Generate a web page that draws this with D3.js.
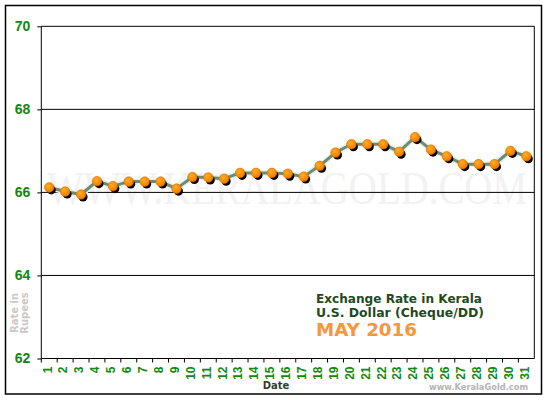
<!DOCTYPE html>
<html>
<head>
<meta charset="utf-8">
<script src="https://cdn.jsdelivr.net/npm/d3@7.9.0/dist/d3.min.js"></script>
<style>
  body { margin: 0; background: #fff; }
  svg { display: block; }
</style>
</head>
<body>
<svg id="chart" width="550" height="400"></svg>
<script>
// ================================
// Data
// ================================
const days = d3.range(1, 32).map(String);
const rates = [
  66.12, 66.02, 65.95, 66.27, 66.15, 66.26, 66.26, 66.26, 66.09, 66.37,
  66.36, 66.33, 66.47, 66.47, 66.47, 66.45, 66.38, 66.64, 66.96, 67.16,
  67.16, 67.16, 66.98, 67.33, 67.03, 66.87, 66.68, 66.68, 66.68, 67.0,
  66.87
];
const yTicks = [62, 64, 66, 68, 70];
const titleLines = ["Exchange Rate in Kerala", "U.S. Dollar (Cheque/DD)"];
const monthLabel = "MAY 2016";

const svg = d3.select("#chart");
const margin = { left: 41.3, top: 26.3, right: 534.3, bottom: 358.5 };

const x = d3.scaleBand().domain(days).range([margin.left, margin.right]);
const y = d3.scaleLinear().domain([62, 70]).range([margin.bottom, margin.top]);

// outer frame
svg.append("rect")
  .attr("x", 5.5).attr("y", 5.5)
  .attr("width", 536).attr("height", 388.5)
  .attr("fill", "#fff").attr("stroke", "#000").attr("stroke-width", 1.5);

// big watermark
svg.append("text")
  .attr("x", 47).attr("y", 204)
  .attr("textLength", 480).attr("lengthAdjust", "spacingAndGlyphs")
  .attr("font-family", "Liberation Serif, serif")
  .attr("font-size", 46)
  .attr("fill", "#f2f2f2")
  .text("WWW.KERALAGOLD.COM");

// ================================
// Axes and grid
// ================================
const yAxis = d3.axisLeft(y).tickValues(yTicks)
  .tickSize(4)
  .tickPadding(7);
svg.append("g")
  .attr("transform", `translate(${margin.left},0)`)
  .call(yAxis)
  .call(g => g.select(".domain").remove())
  .call(g => g.selectAll("line").attr("stroke", "#000"))
  .call(g => g.selectAll("text")
    .attr("fill", "#118811")
    .attr("font-family", "Liberation Sans, Arial, sans-serif")
    .attr("font-weight", "bold")
    .attr("font-size", 14));

svg.append("g")
  .selectAll("line")
  .data(yTicks)
  .join("line")
  .attr("x1", margin.left).attr("x2", margin.right)
  .attr("y1", d => y(d)).attr("y2", d => y(d))
  .attr("stroke", "#000").attr("stroke-width", 1);

svg.append("line")
  .attr("x1", margin.left).attr("x2", margin.left)
  .attr("y1", margin.top).attr("y2", margin.bottom)
  .attr("stroke", "#000");
svg.append("line")
  .attr("x1", margin.right).attr("x2", margin.right)
  .attr("y1", margin.top).attr("y2", margin.bottom)
  .attr("stroke", "#000");

// x ticks at band edges
svg.append("g")
  .selectAll("line")
  .data(days)
  .join("line")
  .attr("x1", d => x(d)).attr("x2", d => x(d))
  .attr("y1", margin.bottom).attr("y2", margin.bottom + 4)
  .attr("stroke", "#000");

// x tick labels, rotated
svg.append("g")
  .selectAll("text")
  .data(days)
  .join("text")
  .attr("transform", d => `translate(${x(d) + x.bandwidth() / 2 - 2},${margin.bottom + 8}) rotate(-90)`)
  .attr("text-anchor", "end")
  .attr("dy", "0.36em")
  .attr("fill", "#118811")
  .attr("font-family", "Liberation Sans, Arial, sans-serif")
  .attr("font-weight", "bold")
  .attr("font-size", 12)
  .text(d => d);

svg.append("text")
  .attr("x", 276).attr("y", 389)
  .attr("text-anchor", "middle")
  .attr("fill", "#2f3f2f")
  .attr("font-family", "DejaVu Sans, sans-serif")
  .attr("font-weight", "bold")
  .attr("font-size", 10)
  .text("Date");

// y axis caption
const cap = svg.append("text")
  .attr("transform", "translate(18,313) rotate(-90)")
  .attr("text-anchor", "middle")
  .attr("fill", "#c8c8c8")
  .attr("font-family", "DejaVu Sans, sans-serif")
  .attr("font-weight", "bold")
  .attr("font-size", 10);
cap.append("tspan").attr("x", 0).attr("y", 0).text("Rate in");
cap.append("tspan").attr("x", 0).attr("y", 10).text("Rupees");

// ================================
// Line and markers
// ================================
const pts = days.map((d, i) => [x(d) + x.bandwidth() / 2, y(rates[i])]);
const line = d3.line();

svg.append("path")
  .attr("d", line(pts))
  .attr("fill", "none")
  .attr("stroke", "#dff4f4")
  .attr("stroke-width", 6)
  .attr("stroke-linejoin", "round");
svg.append("path")
  .attr("d", line(pts))
  .attr("fill", "none")
  .attr("stroke", "#6f8a6c")
  .attr("stroke-width", 3)
  .attr("stroke-linejoin", "round");

svg.append("g")
  .selectAll("circle")
  .data(pts)
  .join("circle")
  .attr("cx", d => d[0] + 2).attr("cy", d => d[1] + 2.5)
  .attr("r", 4.5)
  .attr("fill", "#000");

const grad = svg.append("defs").append("radialGradient")
  .attr("id", "dot").attr("cx", "40%").attr("cy", "35%").attr("r", "65%");
grad.append("stop").attr("offset", "0%").attr("stop-color", "#ffb020");
grad.append("stop").attr("offset", "100%").attr("stop-color", "#f07800");

svg.append("g")
  .selectAll("circle")
  .data(pts)
  .join("circle")
  .attr("cx", d => d[0]).attr("cy", d => d[1])
  .attr("r", 4.8)
  .attr("fill", "url(#dot)")
  .attr("stroke", "#e87000")
  .attr("stroke-width", 0.6);

// ================================
// Title block
// ================================
svg.append("g")
  .selectAll("text")
  .data(titleLines)
  .join("text")
  .attr("x", 316)
  .attr("y", (_, i) => 302.5 + i * 14)
  .attr("textLength", (_, i) => i === 0 ? 166 : 168)
  .attr("lengthAdjust", "spacingAndGlyphs")
  .attr("fill", "#1f4a1f")
  .attr("font-family", "DejaVu Sans, sans-serif")
  .attr("font-weight", "bold")
  .attr("font-size", 12)
  .text(d => d);

svg.append("text")
  .attr("x", 316).attr("y", 335.5)
  .attr("textLength", 101).attr("lengthAdjust", "spacingAndGlyphs")
  .attr("fill", "#f7963a")
  .attr("font-family", "DejaVu Sans, sans-serif")
  .attr("font-weight", "bold")
  .attr("font-size", 17)
  .text(monthLabel);

svg.append("text")
  .attr("x", 429).attr("y", 390)
  .attr("textLength", 99).attr("lengthAdjust", "spacingAndGlyphs")
  .attr("fill", "#b4b4b4")
  .attr("font-family", "DejaVu Sans, sans-serif")
  .attr("font-weight", "bold")
  .attr("font-size", 9)
  .text("www.KeralaGold.com");
</script>
</body>
</html>
